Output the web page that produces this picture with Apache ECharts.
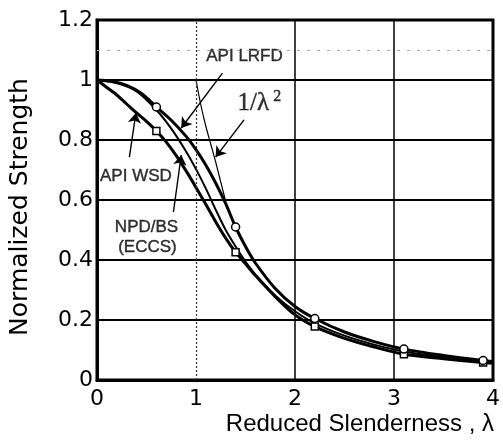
<!DOCTYPE html>
<html>
<head>
<meta charset="utf-8">
<script src="https://cdn.jsdelivr.net/npm/echarts@6/dist/echarts.min.js"></script>
<style>
  html, body { margin: 0; padding: 0; background: #fff; }
  #chart { width: 503px; height: 447px; }
</style>
</head>
<body>
<div id="chart"></div>
<script>
  // values
  const lrfdLambda = [0, 0.15, 0.3, 0.45, 0.6, 0.75, 0.9, 1.0, 1.1, 1.2, 1.3, 1.4, 1.5, 1.6, 1.8, 2.0, 2.2, 2.5, 2.8, 3.1, 3.5, 3.9, 4.0]
  const lrfdStrength = [1.0, 0.995, 0.982, 0.955, 0.91, 0.866, 0.812, 0.768, 0.716, 0.656, 0.588, 0.51, 0.445, 0.39, 0.305, 0.245, 0.205, 0.16, 0.128, 0.103, 0.082, 0.065, 0.062]
  const lrfdMarks = [0.6, 1.4, 2.2, 3.1, 3.9]

  const npdLambda = [0, 0.2, 0.4, 0.6, 0.75, 0.9, 1.0, 1.1, 1.2, 1.3, 1.4, 1.5, 1.6, 1.8, 2.0, 2.2, 2.5, 2.8, 3.1, 3.5, 3.9, 4.0]
  const npdStrength = [1.0, 0.99, 0.962, 0.9, 0.838, 0.762, 0.703, 0.638, 0.567, 0.5, 0.445, 0.395, 0.352, 0.282, 0.229, 0.189, 0.148, 0.118, 0.095, 0.076, 0.06, 0.057]

  const wsdLambda = [0, 0.1, 0.2, 0.3, 0.4, 0.5, 0.6, 0.7, 0.8, 0.9, 1.0, 1.1, 1.2, 1.3, 1.4, 1.5, 1.6, 1.8, 2.0, 2.2, 2.5, 2.8, 3.1, 3.5, 3.9, 4.0]
  const wsdStrength = [1.0, 0.975, 0.95, 0.92, 0.89, 0.862, 0.83, 0.793, 0.748, 0.697, 0.642, 0.585, 0.527, 0.473, 0.426, 0.387, 0.348, 0.278, 0.217, 0.178, 0.139, 0.11, 0.086, 0.071, 0.058, 0.056]
  const wsdMarks = [0.6, 1.4, 2.2, 3.1, 3.9]

  const eulerLambda = [1.0, 1.05, 1.1, 1.15, 1.2, 1.25, 1.3]
  const eulerStrength = [1.0, 0.915, 0.845, 0.785, 0.725, 0.66, 0.595]

  const noteLabels = ['API LRFD', 'API WSD', 'NPD/BS', '(ECCS)']

  const ink = '#000'
  const sans = 'Liberation Sans'
  const wide = 'DejaVu Sans'

  function curve(xs, ys, marks, symbol) {
    return xs.map((x, i) => ({
      value: [x, ys[i]],
      symbol: marks && marks.includes(x) ? symbol : 'none'
    }))
  }

  function arrow(from, to) {
    return [{ coord: from }, { coord: to }]
  }

  const chart = echarts.init(document.getElementById('chart'))

  chart.setOption({
    animation: false,
    backgroundColor: '#fff',
    grid: {
      left: 97,
      right: 2,
      top: 20,
      bottom: 67,
      show: true,
      borderColor: ink,
      borderWidth: 3
    },
    xAxis: {
      type: 'value',
      min: 0,
      max: 4,
      interval: 1,
      name: 'Reduced Slenderness , λ',
      nameLocation: 'end',
      nameGap: 1,
      nameTextStyle: {
        fontFamily: sans,
        fontSize: 24,
        color: ink,
        align: 'right',
        verticalAlign: 'top',
        padding: [32, 0, 0, 0]
      },
      axisLine: { lineStyle: { color: ink, width: 3 } },
      axisTick: { show: false },
      axisLabel: { fontFamily: wide, fontSize: 22, color: ink, margin: 8 },
      splitLine: { show: false }
    },
    yAxis: {
      type: 'value',
      min: 0,
      max: 1.2,
      interval: 0.2,
      name: 'Normalized Strength',
      nameLocation: 'middle',
      nameGap: 64,
      nameTextStyle: {
        fontFamily: wide,
        fontSize: 25,
        color: ink,
        padding: [0, 14, 0, 0]
      },
      axisLine: { lineStyle: { color: ink, width: 3 } },
      axisTick: { show: false },
      axisLabel: { fontFamily: wide, fontSize: 22, color: ink, margin: 4 },
      splitLine: { lineStyle: { color: ink, width: 2 } }
    },
    series: [
      {
        name: 'grid',
        type: 'line',
        data: [],
        markLine: {
          silent: true,
          symbol: 'none',
          label: { show: false },
          data: [
            { xAxis: 1, lineStyle: { color: '#333', width: 1.2, type: [2, 2] } },
            { xAxis: 2, lineStyle: { color: ink, width: 1.5, type: 'solid' } },
            { xAxis: 3, lineStyle: { color: ink, width: 1.5, type: 'solid' } },
            { yAxis: 1.1, lineStyle: { color: '#aaa', width: 1, type: [3, 7] } }
          ]
        }
      },
      {
        name: 'API WSD',
        type: 'line',
        smooth: 0.3,
        data: curve(wsdLambda, wsdStrength, wsdMarks, 'rect'),
        symbolSize: 7,
        itemStyle: { color: '#fff', borderColor: ink, borderWidth: 1.5 },
        lineStyle: { color: ink, width: 3 },
        z: 3
      },
      {
        name: 'NPD/BS (ECCS)',
        type: 'line',
        smooth: 0.3,
        symbol: 'none',
        data: curve(npdLambda, npdStrength, null, 'none'),
        lineStyle: { color: ink, width: 2 },
        z: 3
      },
      {
        name: 'API LRFD',
        type: 'line',
        smooth: 0.3,
        data: curve(lrfdLambda, lrfdStrength, lrfdMarks, 'circle'),
        symbolSize: 8,
        itemStyle: { color: '#fff', borderColor: ink, borderWidth: 1.5 },
        lineStyle: { color: ink, width: 3 },
        z: 4
      },
      {
        name: '1/λ²',
        type: 'line',
        smooth: 0.3,
        symbol: 'none',
        data: curve(eulerLambda, eulerStrength, null, 'none'),
        lineStyle: { color: ink, width: 1.2 },
        z: 3
      },
      {
        name: 'notes',
        type: 'scatter',
        symbolSize: 0,
        silent: true,
        label: {
          show: true,
          position: 'inside',
          color: ink,
          fontFamily: sans,
          fontSize: 17,
          textBorderColor: ink,
          textBorderWidth: 0.4,
          formatter: p => p.name,
          rich: {
            r: { fontFamily: 'Liberation Serif', fontSize: 25, color: ink, textBorderColor: ink, textBorderWidth: 0.4 },
            s: { fontFamily: 'Liberation Serif', fontSize: 16, color: ink, padding: [0, 0, 12, 4] }
          }
        },
        data: [
          { name: noteLabels[0], value: [1.49, 1.08] },
          { name: noteLabels[1], value: [0.393, 0.68] },
          { name: noteLabels[2], value: [0.5, 0.51] },
          { name: noteLabels[3], value: [0.51, 0.443] },
          { name: '{r|1/λ}{s|2}', value: [1.64, 0.923] }
        ],
        markLine: {
          silent: true,
          symbol: ['none', 'arrow'],
          symbolSize: 10,
          label: { show: false },
          lineStyle: { color: ink, width: 1.4, type: 'solid' },
          data: [
            arrow([1.267, 1.023], [0.851, 0.84]),
            arrow([1.485, 0.867], [1.198, 0.743]),
            arrow([0.327, 0.743], [0.393, 0.89]),
            arrow([0.772, 0.56], [0.851, 0.75])
          ]
        }
      }
    ]
  })
</script>
</body>
</html>
